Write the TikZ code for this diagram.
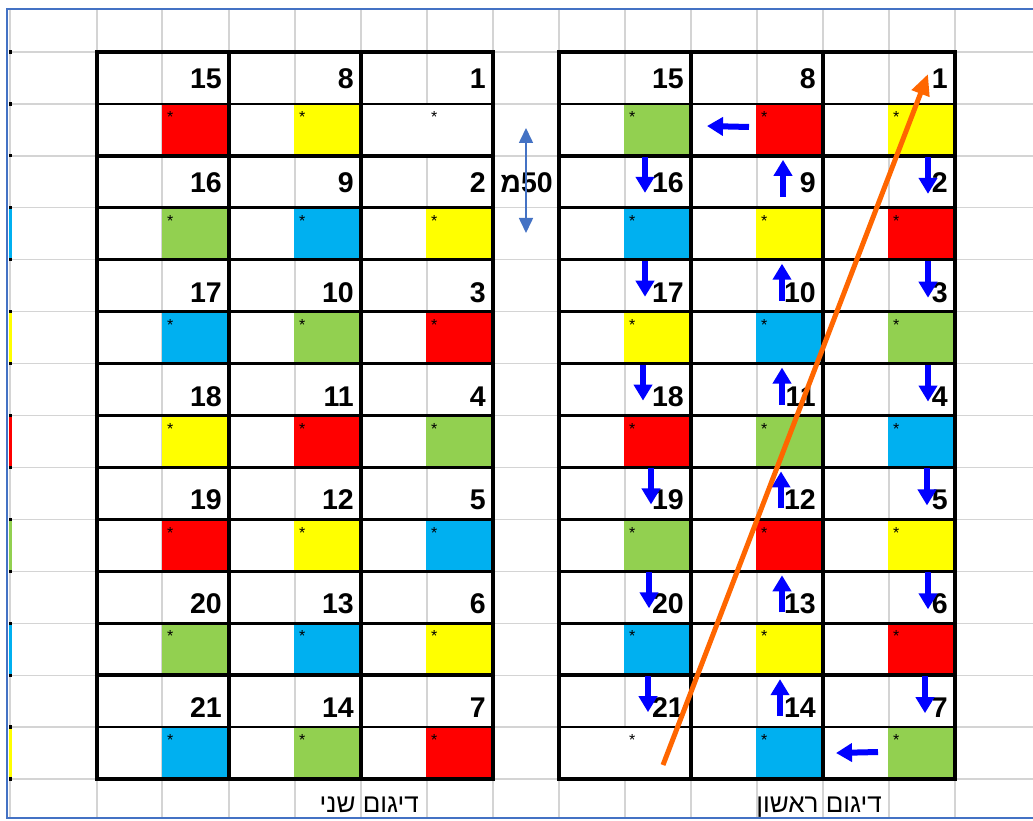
\documentclass[tikz,border=0pt]{standalone}
\usepackage{fontspec}
\setmainfont{Liberation Sans}
\newfontfamily\heb[Script=Hebrew]{Liberation Sans}
\TeXXeTstate=1
\usetikzlibrary{arrows.meta}
\definecolor{cR}{HTML}{FF0000}
\definecolor{cY}{HTML}{FFFF00}
\definecolor{cG}{HTML}{92D050}
\definecolor{cB}{HTML}{00B0F0}
\definecolor{cW}{HTML}{FFFFFF}
\definecolor{gridgray}{HTML}{D4D4D4}
\definecolor{frameblue}{HTML}{4472C4}
\definecolor{arrblue}{HTML}{0000FF}
\definecolor{orangeln}{HTML}{FF6600}
\tikzset{
  gridln/.style={gridgray, line width=1.3},
  thickln/.style={black, line width=3.4},
  thinln/.style={black, line width=2.8},
  numlbl/.style={anchor=base east, inner sep=0, font=\fontsize{28.5}{30}\selectfont\bfseries},
  starlbl/.style={anchor=north west, inner sep=0, font=\fontsize{16}{17}\selectfont},
  heblbl/.style={anchor=base east, inner sep=0, font=\heb\fontsize{26}{28}\selectfont},
  barrow/.style={arrblue, line width=6, -{Triangle[width=18, length=16]}},
  oarrow/.style={orangeln, line width=5, -{Triangle[width=18, length=21]}},
  darrow/.style={frameblue, line width=1.6, {Triangle[width=14, length=15]}-{Triangle[width=14, length=15]}},
}
\begin{document}
\begin{tikzpicture}[x=1pt,y=-1pt]
\useasboundingbox (0,0) rectangle (1033,821);
\fill[white] (0,0) rectangle (1033,821);
% gray spreadsheet grid
\foreach \k in {0,...,14}{
  \draw[gridln] (10,{52+51.93*\k}) -- (1033,{52+51.93*\k});
}
\foreach \x in {10,97,162,229,295,361,427,493,559,625,691,757,823,889,955}{
  \draw[gridln] (\x,9) -- (\x,818);
}
% cut-off cells at left edge
\foreach \c [count=\i from 2] in {cB,cY,cR,cG,cB,cY}{
  \fill[\c] (9,{52+51.93*(2*\i-1)}) rectangle (11.8,{52+51.93*(2*\i)});
}
\foreach \k in {0,...,14}{
  \fill[black] (9,{52+51.93*\k-1.6}) rectangle (11.5,{52+51.93*\k+1.6});
}
% frame
\draw[frameblue, line width=2.2] (1033,9) -- (7,9) -- (7,818) -- (1033,818);
% coloured cells and numbers
\foreach \x/\first/\cols in {
   97/15/{cR,cG,cB,cY,cR,cG,cB},
  229/8/{cY,cB,cG,cR,cY,cB,cG},
  361/1/{cW,cY,cR,cG,cB,cY,cR},
  559/15/{cG,cB,cY,cR,cG,cB,cW},
  691/8/{cR,cY,cB,cG,cR,cY,cB},
  823/1/{cY,cR,cG,cB,cY,cR,cG}}{
  \foreach \c [count=\i] in \cols{
    \fill[\c] (\x+65,{52+51.93*(2*\i-1)}) rectangle (\x+132,{52+51.93*(2*\i)});
    \node[starlbl] (s-\x-\i) at (\x+70,{52+51.93*(2*\i-1)+7.5}) {*};
    \pgfmathtruncatemacro{\n}{\first+\i-1}
    \pgfmathsetmacro{\g}{\i<3 ? 15 : 9.5}
    \node[numlbl] (n-\x-\i) at (\x+125,{52+51.93*(2*\i-2)+51.93-\g}) {\n};
  }
}
% black table rules
\foreach \x in {97,559}{
  \foreach \k in {0,...,14}{
    \pgfmathtruncatemacro{\odd}{mod(\k,2)}
    \ifnum\odd=0
      \draw[thickln] (\x-1.7,{52+51.93*\k}) -- (\x+397.7,{52+51.93*\k});
    \else
      \draw[thinln] (\x,{52+51.93*\k}) -- (\x+396,{52+51.93*\k});
    \fi
  }
  \foreach \j in {0,...,3}{
    \draw[thickln] (\x+132*\j,52) -- (\x+132*\j,779);
  }
}
% blue direction arrows
\foreach \i/\xx in {2/928,3/928,4/928,5/927,6/928,7/925}{
  \draw[barrow] (\xx,{52+51.93*(2*\i-2)+1}) -- (\xx,{52+51.93*(2*\i-2)+38});
}
\foreach \i/\xx in {2/783,3/782,4/782,5/781,6/782,7/780}{
  \draw[barrow] (\xx,{52+51.93*(2*\i-2)+41}) -- (\xx,{52+51.93*(2*\i-2)+4});
}
\foreach \i/\xx in {2/645,3/645,4/643,5/651,6/649,7/648}{
  \draw[barrow] (\xx,{52+51.93*(2*\i-2)+1}) -- (\xx,{52+51.93*(2*\i-2)+37});
}
\coordinate (la1) at (749,127);
\coordinate (la2) at (707,126);
\draw[barrow] (la1) -- (la2);
\coordinate (lb1) at (878,752);
\coordinate (lb2) at (836,753);
\draw[barrow] (lb1) -- (lb2);
% distance marker
\node[numlbl] (dist) at (553,193) {\heb\beginR\beginL 50\endL מ\endR};
\coordinate (dtop) at (526,128);
\coordinate (dbot) at (526,233);
\draw[darrow] (dtop) -- (dbot);
% orange diagonal
\coordinate (ostart) at (663,765);
\coordinate (oend) at (928,74);
\draw[oarrow] (ostart) -- (oend);
% captions
\node[heblbl] (cap1) at (882,812) {\beginR דיגום ראשון\endR};
\node[heblbl] (cap2) at (419,812) {\beginR דיגום שני\endR};
\end{tikzpicture}
\end{document}
